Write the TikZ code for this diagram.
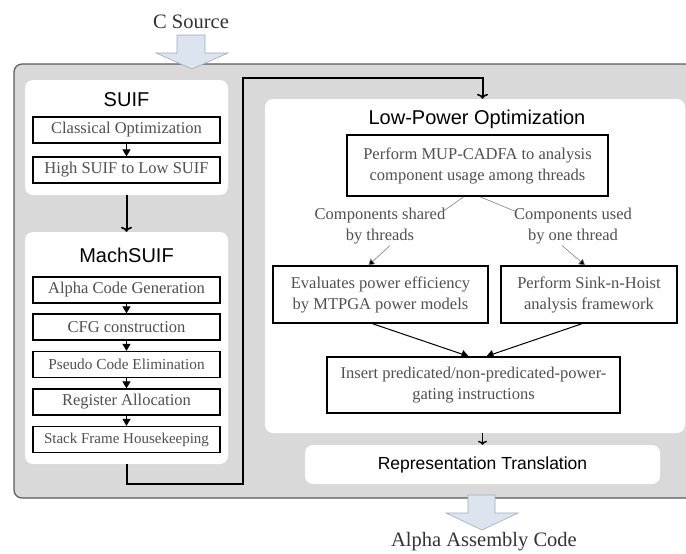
\documentclass[tikz,border=0pt]{standalone}
\usepackage{fontspec}
\setmainfont{Liberation Serif}
\setsansfont{Liberation Sans}
\usetikzlibrary{arrows.meta}
\definecolor{panelgray}{HTML}{D9D9D9}
\definecolor{edgegray}{HTML}{5A5A5A}
\definecolor{txtgray}{HTML}{505050}
\definecolor{srcblue}{HTML}{DCE4EF}
\definecolor{srcedge}{HTML}{A3ABB8}
\tikzset{
    panel/.style={fill=white, rounded corners=8pt, inner sep=0pt},
    title/.style={font=\sffamily\fontsize{20}{24}\selectfont},
    stage/.style={draw, line width=1.3pt, fill=white, text=txtgray, inner sep=0pt,
        minimum width=187pt, minimum height=26pt, font=\fontsize{16.5}{19}\selectfont},
    task/.style={draw, line width=1.4pt, fill=white, text=txtgray, inner sep=0pt,
        align=center, font=\fontsize{16.5}{21}\selectfont},
    note/.style={text=txtgray, align=center, font=\fontsize{16.5}{21}\selectfont},
    passarrow/.style={-{Triangle[width=8pt,length=7pt]}, line width=1pt},
    hint/.style={draw=gray, line width=0.6pt},
    flowarrow/.style={-{To[length=5pt,width=11pt,line width=1.6pt]}, line width=2pt},
    bigarrow/.style={fill=srcblue, draw=srcedge, line width=0.6pt}
}
\begin{document}
\begin{tikzpicture}[x=1pt,y=-1pt]
  \clip (0,0) rectangle (686,554);
  \useasboundingbox (0,0) rectangle (686,554);
  % Draw frame
  \draw[draw=edgegray, fill=panelgray, rounded corners=8pt, line width=1.2pt]
        (14,64) rectangle (720,498);
  % Draw input and output
  \node[font=\fontsize{20.5}{24}\selectfont, text=black!80] (csrc) at (191,22) {C Source};
  \draw[bigarrow] (177,35) -- (205,35) -- (205,53) -- (228,53) -- (192,69)
        -- (156,53) -- (177,53) -- cycle;
  \draw[bigarrow] (468,495) -- (495,495) -- (495,513) -- (518,513) -- (482,530)
        -- (446,513) -- (468,513) -- cycle;
  \node[font=\fontsize{20.5}{24}\selectfont, text=black!80] (asmcode) at (484,542)
        {Alpha Assembly Code};
  % SUIF
  \node[panel, minimum width=203pt, minimum height=115pt] (suif) at (126.5,137.5) {};
  \node[title] (suiftitle) at (126.5,100) {SUIF};
  \node[stage] (classical) at (126.5,130) {Classical Optimization};
  \node[stage] (highlow) at (126.5,170) {High SUIF to Low SUIF};
  \draw[passarrow] (classical) -- (highlow);
  % MachSUIF
  \node[panel, minimum width=203pt, minimum height=232pt] (mach) at (126.5,348) {};
  \node[title] (machtitle) at (126.5,255) {MachSUIF};
  \node[stage] (alphagen) at (126.5,290) {Alpha Code Generation};
  \node[stage] (cfg) at (126.5,327) {CFG construction};
  \node[stage, font=\fontsize{15.3}{19}\selectfont] (pseudo) at (126.5,364.5)
        {Pseudo Code Elimination};
  \node[stage] (regalloc) at (126.5,402) {Register Allocation};
  \node[stage, font=\fontsize{15}{19}\selectfont] (stackframe) at (126.5,439.5)
        {Stack Frame Housekeeping};
  \draw[passarrow] (alphagen) -- (cfg);
  \draw[passarrow] (cfg) -- (pseudo);
  \draw[passarrow] (pseudo) -- (regalloc);
  \draw[passarrow] (regalloc) -- (stackframe);
  \draw[flowarrow] (suif) -- (mach);
  % Low-Power Optimization
  \node[panel, minimum width=420pt, minimum height=334pt] (lowpow) at (475,266) {};
  \node[title] (lowtitle) at (477,119) {Low-Power Optimization};
  \node[task, line width=2pt, minimum width=261pt, minimum height=61pt] (mup)
        at (477.5,165.5)
        {Perform MUP-CADFA to analysis\\component usage among threads};
  \node[note] (sharedlbl) at (380,226) {Components shared\\by threads};
  \node[note] (onelbl) at (573,226) {Components used\\by one thread};
  \node[task, minimum width=215pt, minimum height=57pt] (evals) at (380.5,294.5)
        {Evaluates power efficiency\\by MTPGA power models};
  \node[task, minimum width=176pt, minimum height=57pt] (sink) at (589,294.5)
        {Perform Sink-n-Hoist\\analysis framework};
  \node[task, minimum width=293pt, minimum height=56pt] (insert) at (473.5,385)
        {Insert predicated/non-predicated-power-\\gating instructions};
  \draw[hint] ([xshift=-14pt]mup.south) -- ([xshift=-6pt,yshift=-7pt]sharedlbl.north east);
  \draw[hint] ([xshift=3pt]mup.south) -- ([xshift=5pt,yshift=-7pt]onelbl.north west);
  \draw[hint, -{Triangle[width=7pt,length=6pt,fill=black]}]
        ([xshift=10pt,yshift=2pt]sharedlbl.south) -- ([xshift=-12pt]evals.north);
  \draw[hint, -{Triangle[width=7pt,length=6pt,fill=black]}]
        ([xshift=-11pt,yshift=2pt]onelbl.south) -- ([xshift=-4pt]sink.north);
  \draw[passarrow] ([xshift=-8pt]evals.south) -- ([xshift=-5pt]insert.north);
  \draw[passarrow] ([xshift=-7pt]sink.south) -- ([xshift=13pt]insert.north);
  % Representation Translation
  \node[panel, minimum width=355pt, minimum height=39pt, font=\sffamily\fontsize{17.5}{21}\selectfont]
        (reptrans) at (482.5,464.5) {Representation Translation};
  \draw[-{To[length=4pt,width=9pt,line width=1.4pt]}, line width=1.6pt]
        (lowpow.south -| reptrans.north) -- (reptrans.north);
  % Connector from MachSUIF to Low-Power
  \coordinate (turnlow) at (243,484);
  \coordinate (turnhigh) at (243,78);
  \draw[flowarrow] (mach.south) |- (turnlow) -- (turnhigh)
        -| (lowpow.north -| reptrans.north);
\end{tikzpicture}
\end{document}
